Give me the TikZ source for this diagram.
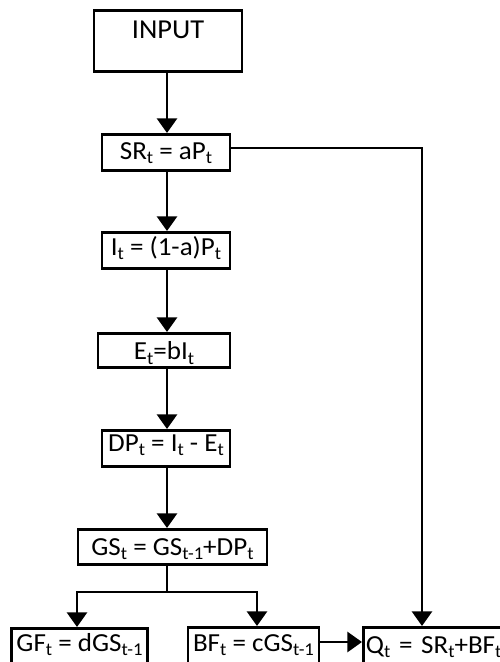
\documentclass[tikz,border=0pt]{standalone}
\usepackage{fontspec}
\setmainfont{Carlito}[FakeStretch=1.04]
\usetikzlibrary{arrows.meta}
\newcommand\lo[1]{\raisebox{-3.5pt}{\fontsize{13.5}{13}\selectfont #1}}
\tikzset{
  box/.style={draw, line width=1.9pt, fill=white, inner sep=0pt, font=\fontsize{19.5}{21}\selectfont},
  arr/.style={line width=2.2pt, -{Triangle[length=11pt,width=15pt]}},
  ln/.style={line width=2.2pt}
}
\begin{document}
\begin{tikzpicture}[x=0.75pt,y=-0.75pt]
\useasboundingbox (0,0) rectangle (500,662);
\clip (0,0) rectangle (500,662);
\node[box, anchor=north, minimum width=148*0.75pt, text height=21pt, text depth=24.75pt, font=\fontsize{20.5}{22}\selectfont] (in) at (168,9) {INPUT};
\node[box, anchor=north, minimum width=128*0.75pt, text height=18.75pt, text depth=8.25pt] (sr) at (166,133) {SR\lo{t} = aP\lo{t}};
\node[box, anchor=north, minimum width=128*0.75pt, text height=17.25pt, text depth=9.75pt] (it) at (166,231) {I\lo{t} = (1-a)P\lo{t}};
\node[box, anchor=north, minimum width=132*0.75pt, text height=19.6pt, text depth=5.9pt] (et) at (164,332) {E\lo{t}=bI\lo{t}};
\node[box, anchor=north, minimum width=128*0.75pt, text height=15.75pt, text depth=11.25pt] (dp) at (166,429) {DP\lo{t} = I\lo{t} - E\lo{t}};
\node[box, anchor=north, minimum width=189*0.75pt, text height=19.5pt, text depth=6.75pt] (gs) at (172.5,528) {GS\lo{t} = GS\lo{t-1}+DP\lo{t}};
\node[box, anchor=north, minimum width=136*0.75pt, text height=17.25pt, text depth=12.75pt] (gf) at (79.5,627) {GF\lo{t} = dGS\lo{t-1}};
\node[box, anchor=north, minimum width=131*0.75pt, text height=18pt, text depth=12pt] (bf) at (253.5,626) {BF\lo{t} = cGS\lo{t-1}};
\node[box, anchor=north west, inner xsep=2pt, text width=146*0.75pt, align=left, text height=19.5pt, text depth=10.5pt] (q) at (362,626) {Q\lo{t} = SR\lo{t}+BF\lo{t}};
\coordinate (cx) at (167,0);
\coordinate (cr) at (422,0);
\coordinate (br) at (167,592);
\coordinate (bl) at (77,0);
\coordinate (bri) at (257,0);
\draw[arr] (in.south -| cx) -- (sr.north -| cx);
\draw[arr] (sr.south -| cx) -- (it.north -| cx);
\draw[arr] (it.south -| cx) -- (et.north -| cx);
\draw[arr] (et.south -| cx) -- (dp.north -| cx);
\draw[arr] (dp.south -| cx) -- (gs.north -| cx);
\draw[ln] (gs.south -| cx) -- (br);
\draw[arr] (br) -| (gf.north -| bl);
\draw[arr] (br) -| (bf.north -| bri);
\draw[arr] (sr.east |- 0,148) -| (q.north -| cr);
\draw[arr] (bf.east |- 0,642) -- (q.west |- 0,642);
\end{tikzpicture}
\end{document}
